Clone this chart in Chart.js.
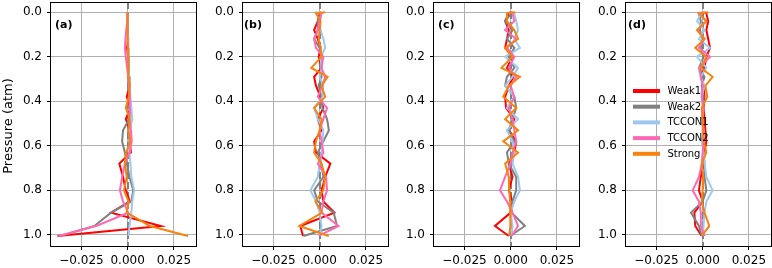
<!DOCTYPE html>
<html><head><meta charset="utf-8">
<script src="https://cdn.jsdelivr.net/npm/chart.js@4.4.1/dist/chart.umd.min.js"></script>
<style>
html,body{margin:0;padding:0;background:#fff}
body{width:772px;height:268px;overflow:hidden;position:relative}
canvas{position:absolute;top:0}
</style>
</head><body>
<canvas id="c0"></canvas><canvas id="c1"></canvas><canvas id="c2"></canvas><canvas id="c3"></canvas>
<script>
const PRESSURE = [0.0, 0.005, 0.04, 0.08, 0.12, 0.16, 0.2, 0.25, 0.29, 0.33, 0.38, 0.43, 0.48, 0.53, 0.58, 0.63, 0.68, 0.74, 0.8, 0.85, 0.9, 0.96, 1.005];
const SERIES_NAMES = ['Weak1', 'Weak2', 'TCCON1', 'TCCON2', 'Strong'];
const PANEL_LABELS = ['(a)', '(b)', '(c)', '(d)'];
const Y_TICKS = [0.0, 0.2, 0.4, 0.6, 0.8, 1.0];
const X_TICKS = [-0.025, 0.0, 0.025];

const weak1_a  = [0, 0, 0, 0, 0.0003, -0.0003, 0.0002, 0.0005, 0.0008, 0.0012, -0.0005, 0.0015, -0.001, 0.0012, 0.001, 0.0018, -0.0045, -0.0025, -0.001, 0.0012, -0.009, 0.018, -0.038];
const weak2_a  = [0, 0, 0, 0, 0, 0.0002, 0.0003, 0.0003, 0.0005, 0.0008, 0.0012, 0.0015, 0.0008, -0.0025, -0.003, -0.0015, -0.0005, 0.001, 0.003, 0.002, -0.009, -0.018, -0.0365];
const tccon1_a = [0, 0, 0, 0, 0.0002, 0.0003, 0.0004, 0.0006, 0.0008, 0.0012, 0.0015, 0.002, 0.0025, 0.0012, 0.0008, 0.0012, 0.0015, 0.002, 0.0035, 0.0025, 0.002, 0.001, 0.0005];
const tccon2_a = [0, 0, -0.0003, -0.0008, -0.0012, -0.0015, -0.001, -0.0003, 0.0003, 0.0006, 0.0012, 0.0008, 0.0012, 0.0018, 0.0022, 0.001, -0.0015, -0.003, -0.0042, -0.0025, 0.0003, -0.017, -0.0375];
const strong_a = [0, 0, 0, 0, 0, 0.0002, 0.0002, 0.0005, 0.0003, 0.0012, 0.0006, -0.001, 0.0012, 0.0003, 0.0015, -0.0008, -0.0015, -0.0005, -0.002, 0.0005, -0.0005, 0.012, 0.0327];

const weak1_b  = [0.001, 0, -0.001, -0.003, -0.001, 0.0005, -0.0005, 0.001, -0.003, -0.002, 0.0005, 0.002, -0.001, 0.001, -0.003, -0.002, 0.0058, 0.003, 0.001, 0.002, 0.008, -0.0105, -0.009];
const weak2_b  = [0, 0.0005, -0.001, -0.001, -0.003, 0, 0.001, 0.0005, 0.001, -0.0005, 0.001, 0.0015, 0.004, 0.005, 0.002, -0.001, 0.001, 0.002, -0.003, -0.001, 0.0076, 0.0094, -0.0088];
const tccon1_b = [-0.002, 0.001, 0, 0.0005, 0.002, 0.003, 0.0005, 0.001, 0, 0.002, 0.0015, -0.003, -0.001, 0.002, 0.0015, 0.001, 0, -0.001, -0.005, -0.002, 0, 0.001, 0];
const tccon2_b = [0, 0.001, 0, -0.001, -0.003, -0.002, 0.002, 0.001, 0.003, 0.0015, -0.001, 0.004, 0.002, 0, 0.001, 0.002, -0.001, 0.0035, 0.004, 0.002, 0.001, 0.0102, -0.0005];
const strong_b = [0.003, -0.002, 0.0005, 0, -0.0005, 0.0005, 0.001, -0.0045, 0.0043, 0.001, 0.003, -0.003, 0.001, 0, -0.002, -0.003, 0.001, 0.003, 0.002, -0.0023, 0.0013, -0.011, 0.0049];

const weak1_c  = [0.001, -0.001, -0.003, -0.001, -0.002, -0.003, 0.001, -0.002, 0.0015, -0.001, -0.003, -0.0025, 0.002, -0.001, 0.003, 0.002, -0.001, 0.001, -0.001, 0.001, 0, -0.0085, -0.001];
const weak2_c  = [0, 0.0005, -0.003, 0.001, -0.002, 0.002, -0.001, 0.002, -0.002, -0.003, 0.002, 0.003, 0.001, -0.001, 0.002, -0.002, -0.001, 0.003, 0.003, 0.001, 0.0005, 0.0077, -0.0003];
const tccon1_c = [0.001, 0.002, 0.003, 0.004, 0.002, 0.005, -0.003, 0.004, 0.001, -0.003, 0.002, -0.002, 0.004, -0.002, 0.001, 0.002, 0.001, 0.004, 0.005, 0.002, 0, 0.001, 0.0005];
const tccon2_c = [-0.001, 0.001, 0.002, -0.003, 0.003, -0.002, 0.002, -0.001, 0.003, 0, 0.002, -0.001, 0.001, 0.002, 0.003, 0.001, 0, -0.003, -0.0058, -0.002, 0.001, 0.004, 0.0005];
const strong_c = [0.0025, -0.002, -0.002, 0.002, 0.004, -0.003, 0.001, -0.005, 0.005, -0.001, -0.004, 0.003, -0.003, 0.004, -0.004, 0.004, -0.003, -0.001, -0.0008, -0.0003, 0, -0.0003, -0.0008];

const weak1_d  = [0.001, 0.002, 0.003, 0.002, 0.003, 0.004, 0.002, 0.001, -0.001, 0.0005, 0.001, 0.0005, 0.001, 0.0015, 0.002, 0.001, 0.0005, -0.001, -0.002, 0, -0.0045, -0.004, -0.0005];
const weak2_d  = [-0.001, -0.002, -0.001, -0.0015, 0, -0.001, 0.0005, -0.002, 0.001, -0.0005, 0.0005, 0, -0.0005, 0.0005, 0, 0.0005, 0.001, 0.001, 0.002, 0, -0.0063, -0.002, -0.0005];
const tccon1_d = [-0.002, -0.001, -0.003, 0.001, -0.002, 0.004, -0.003, 0.002, -0.001, 0.001, -0.0005, 0, -0.0005, 0.0005, -0.0005, 0.0005, 0.001, 0.002, 0.0054, 0.002, 0.001, 0.0005, 0];
const tccon2_d = [0.001, -0.002, 0.002, -0.003, 0.001, -0.002, 0.004, -0.002, -0.001, 0, -0.0005, 0.0005, 0, 0, 0.0005, 0, -0.0005, -0.002, -0.0054, -0.002, -0.001, -0.001, 0.001];
const strong_d = [0.003, -0.002, 0.002, -0.003, 0.001, -0.004, 0.002, -0.001, 0.0054, 0.0015, 0.0025, -0.0005, 0, 0.0005, 0.0005, 0.002, -0.0005, 0.0003, 0, -0.0005, 0.001, 0.0036, -0.0005];

const PANEL_DATA = [
  [weak1_a, weak2_a, tccon1_a, tccon2_a, strong_a],
  [weak1_b, weak2_b, tccon1_b, tccon2_b, strong_b],
  [weak1_c, weak2_c, tccon1_c, tccon2_c, strong_c],
  [weak1_d, weak2_d, tccon1_d, tccon2_d, strong_d]
];

const COLORS = ['#ff0000', '#808080', '#9fc8ee', '#ff69b4', '#f7820f'];
const AREA_LEFT = [51, 243, 434, 626];
const AREA_W = 145;
const YAXIS_W = 51;
const LABEL_DX = [4, 1, 4, 2];
const FONT = 'DejaVu Sans';

function fmtX(v) {
  const s = Math.abs(v).toFixed(3);
  return v < 0 ? '\u2212' + s : s;
}

const framePlugin = {
  id: 'frame',
  beforeDatasetsDraw(chart) {
    const {ctx, chartArea: a, scales} = chart;
    const x0 = Math.round(scales.x.getPixelForValue(0));
    ctx.save();
    ctx.beginPath();
    ctx.rect(a.left, a.top, a.right - a.left, a.bottom - a.top);
    ctx.clip();
    ctx.strokeStyle = '#808080';
    ctx.lineWidth = 2;
    ctx.setLineDash([7, 3]);
    ctx.beginPath();
    ctx.moveTo(x0, a.top);
    ctx.lineTo(x0, a.bottom);
    ctx.stroke();
    ctx.restore();
  },
  afterDraw(chart) {
    const {ctx, chartArea: a} = chart;
    const idx = chart.options.plugins.frame.panel;
    ctx.save();
    ctx.strokeStyle = '#000';
    ctx.lineWidth = 1;
    ctx.strokeRect(Math.round(a.left) - 0.5, Math.round(a.top) + 0.5, Math.round(a.right - a.left) + 1, Math.round(a.bottom - a.top));
    ctx.fillStyle = '#000';
    ctx.font = 'bold 11px "' + FONT + '"';
    ctx.textBaseline = 'middle';
    ctx.textAlign = 'left';
    ctx.fillText(PANEL_LABELS[idx], a.left + LABEL_DX[idx], 25.5);
    if (idx === 0) {
      ctx.font = '13px "' + FONT + '"';
      ctx.translate(9, 126);
      ctx.rotate(-Math.PI / 2);
      ctx.textAlign = 'center';
      ctx.textBaseline = 'middle';
      ctx.fillText('Pressure (atm)', 0, 0);
      ctx.setTransform(1, 0, 0, 1, 0, 0);
    }
    if (idx === 3) {
      const rows = [91, 106.7, 122.4, 138.1, 153.8];
      const lx0 = a.left + 7, lx1 = a.left + 34, tx = a.left + 41.5;
      ctx.font = '10px "' + FONT + '"';
      ctx.textAlign = 'left';
      ctx.textBaseline = 'middle';
      chart.data.datasets.forEach((ds, i) => {
        ctx.strokeStyle = ds.borderColor;
        ctx.lineWidth = 4;
        ctx.beginPath();
        ctx.moveTo(lx0, rows[i]);
        ctx.lineTo(lx1, rows[i]);
        ctx.stroke();
        ctx.fillStyle = '#000';
        ctx.fillText(ds.label, tx, rows[i] + 0.5);
      });
    }
    ctx.restore();
  }
};

function makeChart(i) {
  const canvas = document.getElementById('c' + i);
  const width = YAXIS_W + AREA_W + 3;
  canvas.width = width;
  canvas.height = 268;
  canvas.style.left = (AREA_LEFT[i] - YAXIS_W) + 'px';
  canvas.style.width = width + 'px';
  canvas.style.height = '268px';
  const datasets = SERIES_NAMES.map((name, s) => ({
    label: name,
    data: PRESSURE.map((p, k) => ({x: PANEL_DATA[i][s][k], y: p})),
    borderColor: COLORS[s],
    backgroundColor: COLORS[s],
    borderWidth: 2,
    pointRadius: 0,
    showLine: true,
    tension: 0,
    order: 4 - s
  }));
  new Chart(canvas, {
    type: 'scatter',
    data: {datasets},
    options: {
      responsive: false,
      animation: false,
      devicePixelRatio: 1,
      layout: {padding: {top: 2, right: 3, left: 0, bottom: 0}},
      plugins: {legend: {display: false}, tooltip: {enabled: false}, frame: {panel: i}},
      scales: {
        x: {
          type: 'linear', min: -0.0415, max: 0.037,
          afterFit(s) { s.height = 22; s.paddingLeft = 0; s.paddingRight = 0; s.paddingTop = 0; s.paddingBottom = 0; },
          afterBuildTicks(s) { s.ticks = X_TICKS.map(v => ({value: v})); },
          ticks: {callback: v => fmtX(v), color: '#000', font: {family: FONT, size: 12}, padding: 4, maxRotation: 0, autoSkip: false},
          grid: {color: '#b0b0b0', lineWidth: 1, tickColor: '#000', tickLength: 4, drawTicks: true},
          border: {display: false}
        },
        y: {
          type: 'linear', min: -0.046, max: 1.05, reverse: true,
          afterFit(s) { s.width = YAXIS_W; s.paddingTop = 0; s.paddingBottom = 0; s.paddingLeft = 0; s.paddingRight = 0; },
          afterBuildTicks(s) { s.ticks = Y_TICKS.map(v => ({value: v})); },
          ticks: {callback: v => v.toFixed(1), color: '#000', font: {family: FONT, size: 12}, padding: 5, autoSkip: false},
          grid: {color: '#b0b0b0', lineWidth: 1, tickColor: '#000', tickLength: 4, drawTicks: true},
          border: {display: false}
        }
      }
    },
    plugins: [framePlugin]
  });
}

for (let i = 0; i < 4; i++) makeChart(i);
</script>
</body></html>
